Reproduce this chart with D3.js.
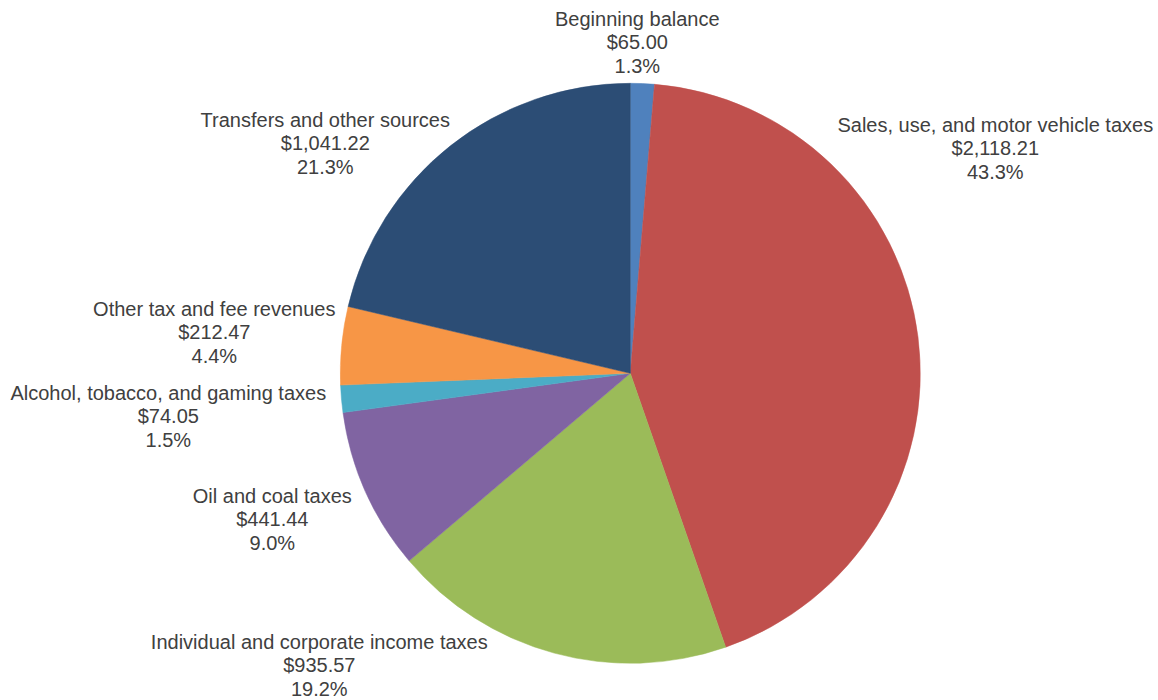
<!DOCTYPE html>
<html>
<head>
<meta charset="utf-8">
<script src="https://cdn.jsdelivr.net/npm/d3@7"></script>
<style>
  html, body { margin: 0; padding: 0; background: #fff; }
  svg text { font-family: "Liberation Sans", Arial, sans-serif; font-size: 20px; fill: #404040; }
</style>
</head>
<body>
<div id="chart"></div>
<script>
// Data (clockwise from 12 o'clock)
var categories = [
  'Beginning balance',
  'Sales, use, and motor vehicle taxes',
  'Individual and corporate income taxes',
  'Oil and coal taxes',
  'Alcohol, tobacco, and gaming taxes',
  'Other tax and fee revenues',
  'Transfers and other sources'
]
var values = [65.00, 2118.21, 935.57, 441.44, 74.05, 212.47, 1041.22]
// Percent labels as printed on the chart
var percents = ['1.3%', '43.3%', '19.2%', '9.0%', '1.5%', '4.4%', '21.3%']

// Slice colours
var colors = ['#4f81bd', '#c0504d', '#9bbb59', '#8064a2', '#4bacc6', '#f79646', '#2c4d75']

// Label block position (middle line) relative to the pie centre
var labelOffsets = [
  [7, -324],
  [365, -218],
  [-311, 299],
  [-358, 153],
  [-462, 50],
  [-416, -34],
  [-305, -223]
]

var dims = {
  width: 1158,
  height: 700,
  cx: 630.3,
  cy: 373.3,
  radius: 290,
  lineHeight: 23.4
}

var data = categories.map(function(c, i) {
  return { label: c, value: values[i], pct: percents[i], index: i }
})

var svg = d3.select('#chart')
  .append('svg')
  .attr('width', dims.width)
  .attr('height', dims.height)

var pie = d3.pie()
  .sort(null)
  .value(function(d) { return d.value })

var arc = d3.arc()
  .innerRadius(0)
  .outerRadius(dims.radius)

var g = svg.append('g')
  .attr('transform', 'translate(' + dims.cx + ',' + dims.cy + ')')

g.selectAll('.slice')
  .data(pie(data))
  .enter()
  .append('path')
  .attr('class', 'slice')
  .attr('d', arc)
  .attr('fill', function(d) { return colors[d.data.index] })
  .attr('stroke', function(d) { return colors[d.data.index] })
  .attr('stroke-width', 0.5)

var money = d3.format(',.2f')

var labels = g.selectAll('.label')
  .data(data)
  .enter()
  .append('text')
  .attr('class', 'label')
  .attr('text-anchor', 'middle')
  .attr('transform', function(d) {
    var o = labelOffsets[d.index]
    return 'translate(' + o[0] + ',' + o[1] + ')'
  })

labels.each(function(d) {
  var t = d3.select(this)
  var lines = [d.label, '$' + money(d.value), d.pct]
  lines.forEach(function(line, i) {
    t.append('tspan')
      .attr('x', 0)
      .attr('y', (i - 1) * dims.lineHeight)
      .text(line)
  })
})
</script>
</body>
</html>
